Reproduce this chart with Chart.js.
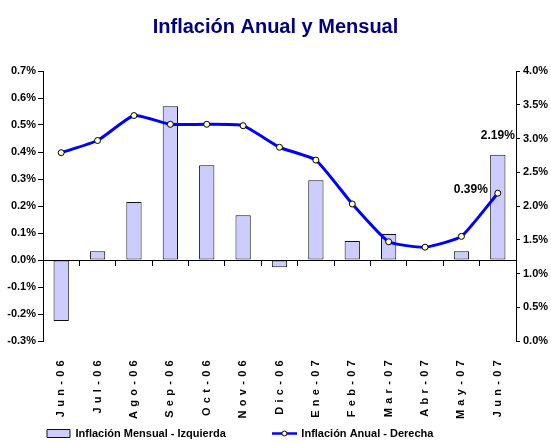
<!DOCTYPE html>
<html>
<head>
<meta charset="utf-8">
<script src="https://cdn.jsdelivr.net/npm/chart.js@4/dist/chart.umd.min.js"></script>
<style>
html,body{margin:0;padding:0;background:#fff;}
#wrap{width:551px;height:444px;}
</style>
</head>
<body>
<div id="wrap"><canvas id="c" width="551" height="444"></canvas></div>
<script>
const chartTitle = 'Inflación Anual y Mensual';
const categories = ['Jun-06','Jul-06','Ago-06','Sep-06','Oct-06','Nov-06','Dic-06','Ene-07','Feb-07','Mar-07','Abr-07','May-07','Jun-07'];
const inflacionMensual = [-0.226, 0.032, 0.215, 0.569, 0.351, 0.166, -0.027, 0.295, 0.070, 0.096, -0.005, 0.032, 0.39];
const inflacionAnual = [2.79, 2.97, 3.34, 3.21, 3.21, 3.19, 2.87, 2.68, 2.03, 1.47, 1.39, 1.55, 2.19];
const leftTickLabels = ['-0.3%','-0.2%','-0.1%','0.0%','0.1%','0.2%','0.3%','0.4%','0.5%','0.6%','0.7%'];
const rightTickLabels = ['0.0%','0.5%','1.0%','1.5%','2.0%','2.5%','3.0%','3.5%','4.0%'];
const seriesNames = ['Inflación Mensual - Izquierda', 'Inflación Anual - Derecha'];

const FONT = "'Liberation Sans Narrow','Arial Narrow','Liberation Sans',Arial,sans-serif";
const BAR_FILL = '#CCCCFF';
const LINE_COLOR = '#0000FF';

// legend icon for the line series (line with a small marker)
const lineIcon = document.createElement('canvas');
lineIcon.width = 25; lineIcon.height = 9;
(function(){
  const g = lineIcon.getContext('2d');
  g.strokeStyle = LINE_COLOR; g.lineWidth = 2.5;
  g.beginPath(); g.moveTo(0, 4.5); g.lineTo(25, 4.5); g.stroke();
  g.beginPath(); g.arc(12.5, 4.5, 2.5, 0, Math.PI * 2);
  g.fillStyle = '#FFFFCC'; g.fill();
  g.strokeStyle = '#000'; g.lineWidth = 1; g.stroke();
})();

const labelPlugin = {
  id: 'labelPlugin',
  afterDatasetsDraw(chart) {
    // spaced-out category labels (x tick labels are drawn after datasets)
    chart.ctx.letterSpacing = '4.3px';
  },
  afterDraw(chart) {
    const ctx = chart.ctx;
    ctx.letterSpacing = '0px';
    const s = chart.scales;
    const i = categories.length - 1;
    const x = s.x.getPixelForValue(i);
    ctx.save();
    ctx.font = 'bold 12px ' + FONT;
    ctx.fillStyle = '#000';
    ctx.textBaseline = 'middle';
    ctx.textAlign = 'center';
    ctx.fillText(inflacionAnual[i].toFixed(2) + '%', x, s.y.getPixelForValue(inflacionMensual[i]) - 19);
    ctx.textAlign = 'right';
    ctx.fillText(inflacionMensual[i].toFixed(2) + '%', x - 10, s.y1.getPixelForValue(inflacionAnual[i]) - 3);
    ctx.restore();
  }
};

const tickFont = { family: FONT, size: 11, weight: 'bold' };

new Chart(document.getElementById('c'), {
  type: 'bar',
  data: {
    labels: categories,
    datasets: [
      {
        type: 'bar',
        label: seriesNames[0],
        data: inflacionMensual,
        xAxisID: 'x',
        yAxisID: 'y',
        backgroundColor: BAR_FILL,
        borderColor: '#111',
        borderWidth: 1,
        borderSkipped: false,
        barPercentage: 0.42,
        categoryPercentage: 1,
        order: 1
      },
      {
        type: 'line',
        label: seriesNames[1],
        data: inflacionAnual,
        xAxisID: 'x',
        yAxisID: 'y1',
        borderColor: LINE_COLOR,
        borderWidth: 3,
        pointRadius: 3,
        pointBackgroundColor: '#FFFFCC',
        pointBorderColor: '#000',
        pointBorderWidth: 1,
        tension: 0.15,
        fill: false,
        order: 0
      }
    ]
  },
  options: {
    responsive: false,
    animation: false,
    layout: { padding: 0 },
    plugins: {
      tooltip: { enabled: false },
      title: {
        display: true,
        text: chartTitle,
        color: '#000080',
        font: { family: FONT, size: 20, weight: 'bold' },
        padding: { top: 15, bottom: 32 }
      },
      legend: {
        position: 'bottom',
        align: 'start',
        maxHeight: 63,
        labels: {
          usePointStyle: true,
          pointStyleWidth: 23,
          boxHeight: 8,
          padding: 47,
          color: '#000',
          font: { family: FONT, size: 11, weight: 'bold' },
          generateLabels: () => [
            { text: seriesNames[0], fillStyle: BAR_FILL, strokeStyle: '#111', lineWidth: 1, pointStyle: 'rect', datasetIndex: 0, hidden: false, fontColor: '#000' },
            { text: seriesNames[1], fillStyle: LINE_COLOR, strokeStyle: LINE_COLOR, lineWidth: 0, pointStyle: lineIcon, datasetIndex: 1, hidden: false, fontColor: '#000' }
          ]
        }
      }
    },
    scales: {
      x: {
        position: { y: -0.3 },
        offset: true,
        grid: { display: false, drawTicks: false },
        border: { display: false },
        ticks: {
          z: 1,
          autoSkip: false,
          minRotation: 90,
          maxRotation: 90,
          padding: 15,
          color: '#000',
          font: tickFont
        },
        afterFit(s) { s.height = 0; }
      },
      xz: {
        type: 'category',
        position: { y: 0 },
        offset: true,
        grid: { display: true, drawOnChartArea: false, drawTicks: true, tickLength: 5, color: '#000', offset: true },
        border: { display: true, color: '#000', width: 1 },
        ticks: { display: false },
        afterFit(s) { s.height = 0; }
      },
      xspace: {
        type: 'category',
        position: 'bottom',
        grid: { display: false, drawTicks: false },
        border: { display: false },
        ticks: { display: false },
        afterFit(s) { s.height = 40; }
      },
      y: {
        position: 'left',
        min: -0.3,
        max: 0.7,
        ticks: { stepSize: 0.1, callback: (v, i) => leftTickLabels[i], padding: 2, color: '#000', font: tickFont },
        grid: { drawOnChartArea: false, tickLength: 5, color: '#000' },
        border: { color: '#000', width: 1 },
        afterFit(s) { s.width = 43; }
      },
      y1: {
        position: 'right',
        min: 0,
        max: 4,
        ticks: { stepSize: 0.5, callback: (v, i) => rightTickLabels[i], padding: 3, color: '#000', font: tickFont },
        grid: { drawOnChartArea: false, tickLength: 4, color: '#000' },
        border: { color: '#000', width: 1 },
        afterFit(s) { s.width = 35; }
      }
    }
  },
  plugins: [labelPlugin]
});
</script>
</body>
</html>
